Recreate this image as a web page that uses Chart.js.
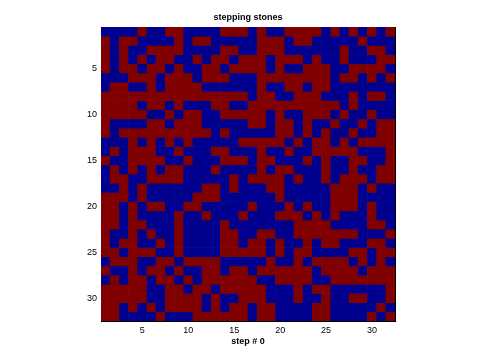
<!DOCTYPE html>
<html>
<head>
<meta charset="utf-8">
<script src="https://cdn.jsdelivr.net/npm/chart.js@4.4.1/dist/chart.umd.min.js"></script>
<style>
  html, body { margin: 0; background: #fff; }
  #wrap { width: 480px; height: 361px; }
</style>
</head>
<body>
<div id="wrap"><canvas id="stones"></canvas></div>
<script>
// 1 = red stone, 0 = blue stone, one string per row (row 1 at top)
const rows = [
  "00001001100001110100111101010101",
  "10110000101100000111011000001000",
  "10100111100001100111000000100110",
  "10101011001011011101110100100011",
  "10110110100110111101001110011110",
  "00011101110111000111111110110101",
  "01100101111000000100110110000000",
  "11111111111111110110011100010110",
  "11110110100011001111111111010000",
  "11111001011001111101001110100100",
  "10000110111000001101101001001011",
  "10111111111101000001101010010011",
  "00010101010000011111010110101111",
  "01011100100011000100100111110001",
  "10011110010001110110001010011001",
  "01010101100010000101100010010011",
  "01100111100000101111010010111011",
  "00101000000110100011000001110100",
  "11101000001110000001000001110000",
  "11010110011000001000101001110100",
  "11010000100100010001110101000100",
  "11011000100001000000011110000110",
  "10010100100001100110011111110001",
  "10110010100001101101001011000110",
  "11011100100001111101011000011011",
  "01110011011110000010010111101010",
  "10010110100110110111111011110111",
  "01011011010111111001111001111111",
  "11111001101101111100010110000001",
  "11111001111010011100010010011001",
  "11010101111010110110000110000010",
  "11000010001111110110000110000101"
];
const cols = Array.from({ length: 32 }, (_, i) => String(i + 1));
const xTicks = [5, 10, 15, 20, 25, 30];
const yTicks = [5, 10, 15, 20, 25, 30];

const LOW = 'rgb(0,0,143)';
const HIGH = 'rgb(128,0,0)';

Chart.defaults.font.family = "'Liberation Sans', Arial, sans-serif";
Chart.defaults.font.size = 9;
Chart.defaults.color = '#000';

const datasets = rows.map((row, r) => ({
  data: cols.map(() => [r + 0.5, r + 1.5]),
  backgroundColor: row.split('').map(v => v === '1' ? HIGH : LOW),
  borderWidth: 0,
  grouped: false,
  barPercentage: 1,
  categoryPercentage: 1
}));

new Chart(document.getElementById('stones'), {
  type: 'bar',
  data: { labels: cols, datasets },
  options: {
    responsive: true,
    maintainAspectRatio: false,
    animation: false,
    layout: { padding: { left: 0, right: 85, top: 0, bottom: 0 } },
    plugins: {
      legend: { display: false },
      tooltip: { enabled: false }
    },
    scales: {
      x: {
        type: 'category',
        position: 'bottom',
        grid: { display: false, drawTicks: false },
        border: { display: true, color: '#000', width: 1 },
        ticks: {
          autoSkip: false,
          maxRotation: 0,
          padding: 4,
          callback: (v, i) => xTicks.includes(i + 1) ? cols[i] : ''
        },
        title: {
          display: true,
          text: 'step # 0',
          font: { weight: 'bold', size: 9 },
          padding: { top: 0, bottom: 14 }
        },
        afterFit: s => { s.height = 40; }
      },
      x2: {
        type: 'category',
        position: 'top',
        grid: { display: false, drawTicks: false },
        border: { display: true, color: '#000', width: 1 },
        ticks: { display: false },
        title: {
          display: true,
          text: 'stepping stones',
          font: { weight: 'bold', size: 9 },
          padding: { top: 12, bottom: 0 }
        },
        afterFit: s => { s.height = 27; }
      },
      y: {
        type: 'linear',
        reverse: true,
        min: 0.5,
        max: 32.5,
        grid: { display: false, drawTicks: false },
        border: { display: true, color: '#000', width: 1 },
        ticks: { padding: 4 },
        afterBuildTicks: s => { s.ticks = yTicks.map(v => ({ value: v })); },
        afterFit: s => { s.width = 101; }
      },
      y2: {
        type: 'linear',
        position: 'right',
        min: 0.5,
        max: 32.5,
        grid: { display: false, drawTicks: false },
        border: { display: true, color: '#000', width: 1 },
        ticks: { display: false },
        afterFit: s => { s.width = 0; }
      }
    }
  }
});
</script>
</body>
</html>
